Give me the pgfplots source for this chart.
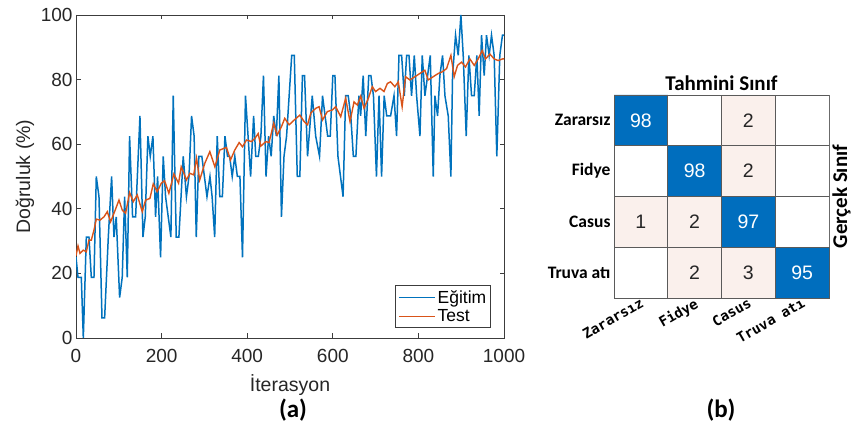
\documentclass[border=0pt]{standalone}
\usepackage{fontspec}
\setmainfont{Liberation Sans}
\newfontfamily\calfont{Carlito}
\newfontfamily\monofont{DejaVu Sans Mono}
\usepackage{pgfplots}
\usepackage{pgfplotstable}
\pgfplotsset{compat=1.18}
\definecolor{mblue}{RGB}{0,114,189}
\definecolor{morange}{RGB}{217,83,25}
\definecolor{cmblue}{RGB}{0,110,190}
\definecolor{cmpink}{RGB}{250,240,236}
\definecolor{axgray}{RGB}{60,60,60}
\definecolor{gridgray}{RGB}{90,90,90}

\pgfplotstableread{
x y
0 25
4.7 18.75
12.4 18.75
17.1 0
24.1 31.25
30.3 31.25
35.8 18.75
42 18.75
47.4 50
53.7 43.75
60.7 6.25
66.9 6.25
75.5 31.25
83.2 50
88.7 31.25
94 37.5
101.9 12.5
108 18.75
113.6 43.75
119.8 18.75
125.2 62.5
132.2 37.5
139.3 37.5
149.4 68.75
156.4 31.25
161.8 37.5
168 62.5
173.5 56.25
179.7 62.5
185.9 37.5
190.6 50
197.6 25
203.8 56.25
209.3 43.75
215.5 37.5
221.7 31.25
227.2 75
234.2 31.25
240.4 31.25
250.5 56.25
258 43.75
264 50
270 68.75
276 62.5
281 31.25
287 56.25
294 56.25
300 50
306 43.75
313 50
318 43.75
324 31.25
330 62.5
336 43.75
342 43.75
348 62.5
354 56.25
359 56.25
365 50
371 56.25
377 50
383 50
389 25
396 75
402 62.5
408 50
415 68.75
420 56.25
426 56.25
432 62.5
438 81.25
444 50
450 62.5
456 56.25
462 68.75
468 62.5
474 81.25
480 37.5
486 56.25
492 62.5
504 87.5
510 87.5
517 50
523 50
529 81.25
534 81.25
541 56.25
552 75
560 62.5
569 56.25
576 75
582 68.75
588 62.5
594 62.5
600 81.25
605 81.25
612 56.25
618 50
624 43.75
630 75
636 75
642 68.75
648 56.25
654 56.25
661 75
665 68.75
671 81.25
677 62.5
684 81.25
689 81.25
695 75
702 50
708 75
714 50
720 75
726 68.75
735 68.75
743 75
749 62.5
754.6 87.5
760.8 87.5
767 75
772.5 87.5
778 87.5
784 75
790.4 87.5
795.8 75
803.6 62.5
809 87.5
815.2 75
821.5 81.25
827.7 87.5
834.7 50
838.6 75
844.8 68.75
850.2 81.25
856.5 87.5
862 75
869.7 68.75
875.9 50
879.8 81.25
886.8 93.75
893 87.5
899.3 100
904.7 87.5
911.7 62.5
917.9 87.5
924.2 75
930.4 75
936.6 87.5
942 68.75
947.5 93.75
953.7 81.25
959.1 93.75
965.3 87.5
970.8 93.75
977 87.5
983.2 56.25
990.2 87.5
996.4 93.75
1000 93.75
}\train

\pgfplotstableread{
x y
0 25.5
4.7 28.5
9.3 26.2
17.1 27.2
24.1 26.7
30.3 30.3
35.8 30.3
42 33.4
47.4 36.8
56 36.5
65.3 37.5
73.1 39.1
80.9 36
88.7 38.6
100.4 42.7
108.1 39.6
115.9 38.6
125.2 45
133.8 42.2
143.1 44.3
154.8 39.1
162.6 42.7
172.7 43.2
180.5 47.7
189.8 45.3
199.2 47.9
206.9 48.7
217 44.8
228.7 50.8
239.6 47.9
245.8 53
252.1 51
258 48.9
266 51
275 50.5
281.6 55.7
289 48.9
301 54.1
312.7 57.7
324.4 53
336 58.2
351.6 59
361 55.1
371 58.2
381.2 60.5
389 59.2
398.3 61.3
410 60.8
418 61.8
425.6 63.3
431.8 59.4
443.4 60.8
451 60.5
462 66.5
470 62.8
480 65.4
487.7 68
498 66
510 67.5
523 69
533 67
541 66
548.5 69.6
560 71.1
568 71.6
576 67.5
587.3 70.1
599 70.6
606.8 71.6
618.5 68.5
630 74.2
640.2 67
649.6 73.1
657.4 72.1
665.2 74.9
673 71.1
683 74.2
692.3 77.8
700 76.3
710.3 77.3
719.6 76.3
727.4 78.8
735 79.3
745 77.8
753 79.3
762 71.6
770 80.9
780 79.9
792 80.9
803.6 81.9
815 82.9
823 79.9
834.7 80.9
846.4 81.9
855.7 82.4
865.8 83.4
876 87.5
883.6 80.9
891.4 84.4
900.8 85.4
910 83.9
920.2 86.4
930.4 84.4
939.7 86.4
949 89
956.9 86.4
967 87.9
977 86.4
986.4 85.9
996.4 86.4
1000 86.4
}\test

\pgfplotstableread{
x y v
1 1 98
2 2 98
3 3 97
4 4 95
}\diag

\pgfplotstableread{
x y v
3 1 2
3 2 2
1 3 1
2 3 2
2 4 2
3 4 3
}\offdiag

\begin{document}
\begin{tikzpicture}[x=1pt,y=1pt]
\path[use as bounding box] (0,0) rectangle (851,430);

\begin{axis}[
  at={(76pt,92pt)}, anchor=south west,
  scale only axis, width=428pt, height=323pt,
  xmin=0, xmax=1000, ymin=0, ymax=100,
  xtick={0,200,...,1000}, ytick={0,20,...,100},
  axis line style={axgray, line width=0.7pt},
  tick style={axgray, line width=0.7pt},
  major tick length=4.5pt,
  /pgf/number format/assume math mode=true,
  /pgf/number format/set thousands separator={},
  ticklabel style={font=\fontsize{19}{22}\selectfont, text=black!85},
  xticklabel style={anchor=base, yshift=-25pt},
  every axis x label/.style={at={(axis description cs:0.5,0)}, anchor=center, yshift=-47pt},
  every axis y label/.style={at={(axis description cs:0,0.5)}, xshift=-51pt, rotate=90, anchor=center},
  label style={font=\fontsize{19.5}{22}\selectfont, text=black!85},
  xlabel={İterasyon},
  ylabel={Doğruluk (\%)},
  legend style={at={(axis description cs:0.97,0.031)}, anchor=south east,
    draw=axgray, line width=0.7pt, font=\fontsize{17.5}{20}\selectfont,
    inner sep=2.5pt, row sep=1pt},
  legend cell align=left,
  legend image code/.code={\draw[#1] (0pt,0pt) -- (36pt,0pt);},
]
\addplot[mblue, line width=1.5pt] table {\train};
\addlegendentry{Eğitim}
\addplot[morange, line width=1.4pt] table {\test};
\addlegendentry{Test}
\end{axis}

\begin{axis}[
  at={(614pt,132pt)}, anchor=south west,
  scale only axis, width=215pt, height=203pt,
  xmin=0.5, xmax=4.5, ymin=0.5, ymax=4.5, y dir=reverse,
  xtick={1,2,3,4}, ytick={1,2,3,4},
  xticklabels={Zararsız,Fidye,Casus,Truva atı},
  yticklabels={Zararsız,Fidye,Casus,Truva atı},
  major tick length=0pt,
  axis line style={gridgray, line width=0.8pt},
  yticklabel style={font=\calfont\bfseries\fontsize{17.5}{20}\selectfont, anchor=east},
  xticklabel style={font=\monofont\bfseries\fontsize{14}{16}\selectfont, rotate=30, anchor=north east, xshift=3pt, yshift=5pt},
  title={Tahmini Sınıf},
  every axis title/.style={at={(axis description cs:0.5,1)}, anchor=base, yshift=4.5pt, font=\calfont\bfseries\fontsize{21}{24}\selectfont},
  ylabel={Gerçek Sınıf},
  every axis y label/.style={at={(axis description cs:1,0.5)}, xshift=18pt, rotate=90, anchor=base},
  ylabel style={font=\calfont\bfseries\fontsize{21}{24}\selectfont},
]
% row 1
\addplot[fill=cmblue, draw=gridgray, line width=0.8pt] coordinates {(0.5,0.5) (1.5,0.5) (1.5,1.5) (0.5,1.5) (0.5,0.5)};
\addplot[fill=white, draw=gridgray, line width=0.8pt] coordinates {(1.5,0.5) (2.5,0.5) (2.5,1.5) (1.5,1.5) (1.5,0.5)};
\addplot[fill=cmpink, draw=gridgray, line width=0.8pt] coordinates {(2.5,0.5) (3.5,0.5) (3.5,1.5) (2.5,1.5) (2.5,0.5)};
\addplot[fill=white, draw=gridgray, line width=0.8pt] coordinates {(3.5,0.5) (4.5,0.5) (4.5,1.5) (3.5,1.5) (3.5,0.5)};
% row 2
\addplot[fill=white, draw=gridgray, line width=0.8pt] coordinates {(0.5,1.5) (1.5,1.5) (1.5,2.5) (0.5,2.5) (0.5,1.5)};
\addplot[fill=cmblue, draw=gridgray, line width=0.8pt] coordinates {(1.5,1.5) (2.5,1.5) (2.5,2.5) (1.5,2.5) (1.5,1.5)};
\addplot[fill=cmpink, draw=gridgray, line width=0.8pt] coordinates {(2.5,1.5) (3.5,1.5) (3.5,2.5) (2.5,2.5) (2.5,1.5)};
\addplot[fill=white, draw=gridgray, line width=0.8pt] coordinates {(3.5,1.5) (4.5,1.5) (4.5,2.5) (3.5,2.5) (3.5,1.5)};
% row 3
\addplot[fill=cmpink, draw=gridgray, line width=0.8pt] coordinates {(0.5,2.5) (1.5,2.5) (1.5,3.5) (0.5,3.5) (0.5,2.5)};
\addplot[fill=cmpink, draw=gridgray, line width=0.8pt] coordinates {(1.5,2.5) (2.5,2.5) (2.5,3.5) (1.5,3.5) (1.5,2.5)};
\addplot[fill=cmblue, draw=gridgray, line width=0.8pt] coordinates {(2.5,2.5) (3.5,2.5) (3.5,3.5) (2.5,3.5) (2.5,2.5)};
\addplot[fill=white, draw=gridgray, line width=0.8pt] coordinates {(3.5,2.5) (4.5,2.5) (4.5,3.5) (3.5,3.5) (3.5,2.5)};
% row 4
\addplot[fill=white, draw=gridgray, line width=0.8pt] coordinates {(0.5,3.5) (1.5,3.5) (1.5,4.5) (0.5,4.5) (0.5,3.5)};
\addplot[fill=cmpink, draw=gridgray, line width=0.8pt] coordinates {(1.5,3.5) (2.5,3.5) (2.5,4.5) (1.5,4.5) (1.5,3.5)};
\addplot[fill=cmpink, draw=gridgray, line width=0.8pt] coordinates {(2.5,3.5) (3.5,3.5) (3.5,4.5) (2.5,4.5) (2.5,3.5)};
\addplot[fill=cmblue, draw=gridgray, line width=0.8pt] coordinates {(3.5,3.5) (4.5,3.5) (4.5,4.5) (3.5,4.5) (3.5,3.5)};
% numbers
\addplot[draw=none, mark=none, nodes near coords, point meta=explicit symbolic,
  nodes near coords style={anchor=center, text=white, font=\fontsize{19.5}{22}\selectfont}]
  table[meta=v] {\diag};
\addplot[draw=none, mark=none, nodes near coords, point meta=explicit symbolic,
  nodes near coords style={anchor=center, text=black!85, font=\fontsize{19.5}{22}\selectfont}]
  table[meta=v] {\offdiag};
\end{axis}

\node[font=\calfont\bfseries\fontsize{25}{28}\selectfont] at (293,20) {(a)};
\node[font=\calfont\bfseries\fontsize{25}{28}\selectfont] at (721,20) {(b)};
\end{tikzpicture}
\end{document}
